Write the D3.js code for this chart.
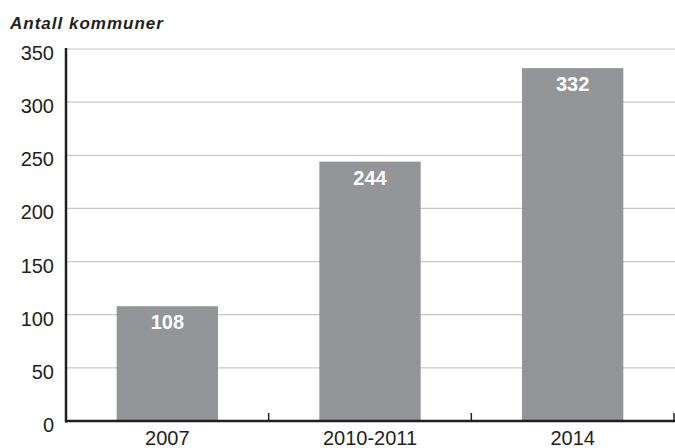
<!DOCTYPE html>
<html><head><meta charset="utf-8">
<script src="https://cdn.jsdelivr.net/npm/d3@7"></script>
<style>body{margin:0;background:#fff}svg{display:block}</style>
</head><body>
<script>
const categories = ["2007", "2010-2011", "2014"];
const values = [108, 244, 332];
const yTicks = [0, 50, 100, 150, 200, 250, 300, 350];
const title = "Antall kommuner";

const W = 675, H = 448;
const m = {left: 66, right: 1, top: 49, bottom: 27};
const svg = d3.select("body").append("svg").attr("width", W).attr("height", H);
const font = "Liberation Sans, Arial, Helvetica, sans-serif";

const x = d3.scaleBand().domain(categories).range([m.left, W - m.right]).paddingInner(0.5).paddingOuter(0.25);
const y = d3.scaleLinear().domain([0, 350]).range([H - m.bottom, m.top]);

// gridlines
svg.append("g").selectAll("line").data(yTicks.filter(d => d > 0)).join("line")
  .attr("x1", m.left).attr("x2", W).attr("y1", d => y(d)).attr("y2", d => y(d))
  .attr("stroke", "#c8c8ca").attr("stroke-width", 1.2);

// y labels
svg.append("g").selectAll("text").data(yTicks).join("text")
  .attr("x", 54).attr("y", d => y(d) + 11)
  .attr("text-anchor", "end").attr("font-family", font).attr("font-size", 20)
  .attr("fill", "#231f20").text(d => d);

// bars
svg.append("g").selectAll("rect").data(values).join("rect")
  .attr("x", (d, i) => x(categories[i])).attr("width", x.bandwidth())
  .attr("y", d => y(d)).attr("height", d => y(0) - y(d))
  .attr("fill", "#939598");

// value labels
svg.append("g").selectAll("text").data(values).join("text")
  .attr("x", (d, i) => x(categories[i]) + x.bandwidth() / 2)
  .attr("y", d => y(d) + 23)
  .attr("text-anchor", "middle").attr("font-family", font).attr("font-weight", "bold")
  .attr("font-size", 20).attr("fill", "#fff").text(d => d);

// axes lines
const ink = "#231f20";
svg.append("line").attr("x1", m.left).attr("x2", m.left).attr("y1", m.top - 1).attr("y2", y(0) + 1.5)
  .attr("stroke", ink).attr("stroke-width", 2.5);
svg.append("line").attr("x1", m.left - 1).attr("x2", W).attr("y1", y(0)).attr("y2", y(0))
  .attr("stroke", ink).attr("stroke-width", 2.5);

// category boundary ticks
const step = x.step();
const bounds = categories.map(c => x(c) + x.bandwidth() + (step - x.bandwidth()) / 2);
svg.append("g").selectAll("line").data(bounds).join("line")
  .attr("x1", d => Math.min(d, W - 1)).attr("x2", d => Math.min(d, W - 1))
  .attr("y1", y(0) - 8).attr("y2", y(0))
  .attr("stroke", ink).attr("stroke-width", 1.5);

// x labels
svg.append("g").selectAll("text").data(categories).join("text")
  .attr("x", d => x(d) + x.bandwidth() / 2).attr("y", 445)
  .attr("text-anchor", "middle").attr("font-family", font).attr("font-size", 20)
  .attr("fill", ink).text(d => d);

// title
svg.append("text").attr("x", 10).attr("y", 29)
  .attr("font-family", font).attr("font-weight", "bold").attr("font-style", "italic")
  .attr("font-size", 17).attr("letter-spacing", 1).attr("fill", ink).text(title);
</script>
</body></html>
